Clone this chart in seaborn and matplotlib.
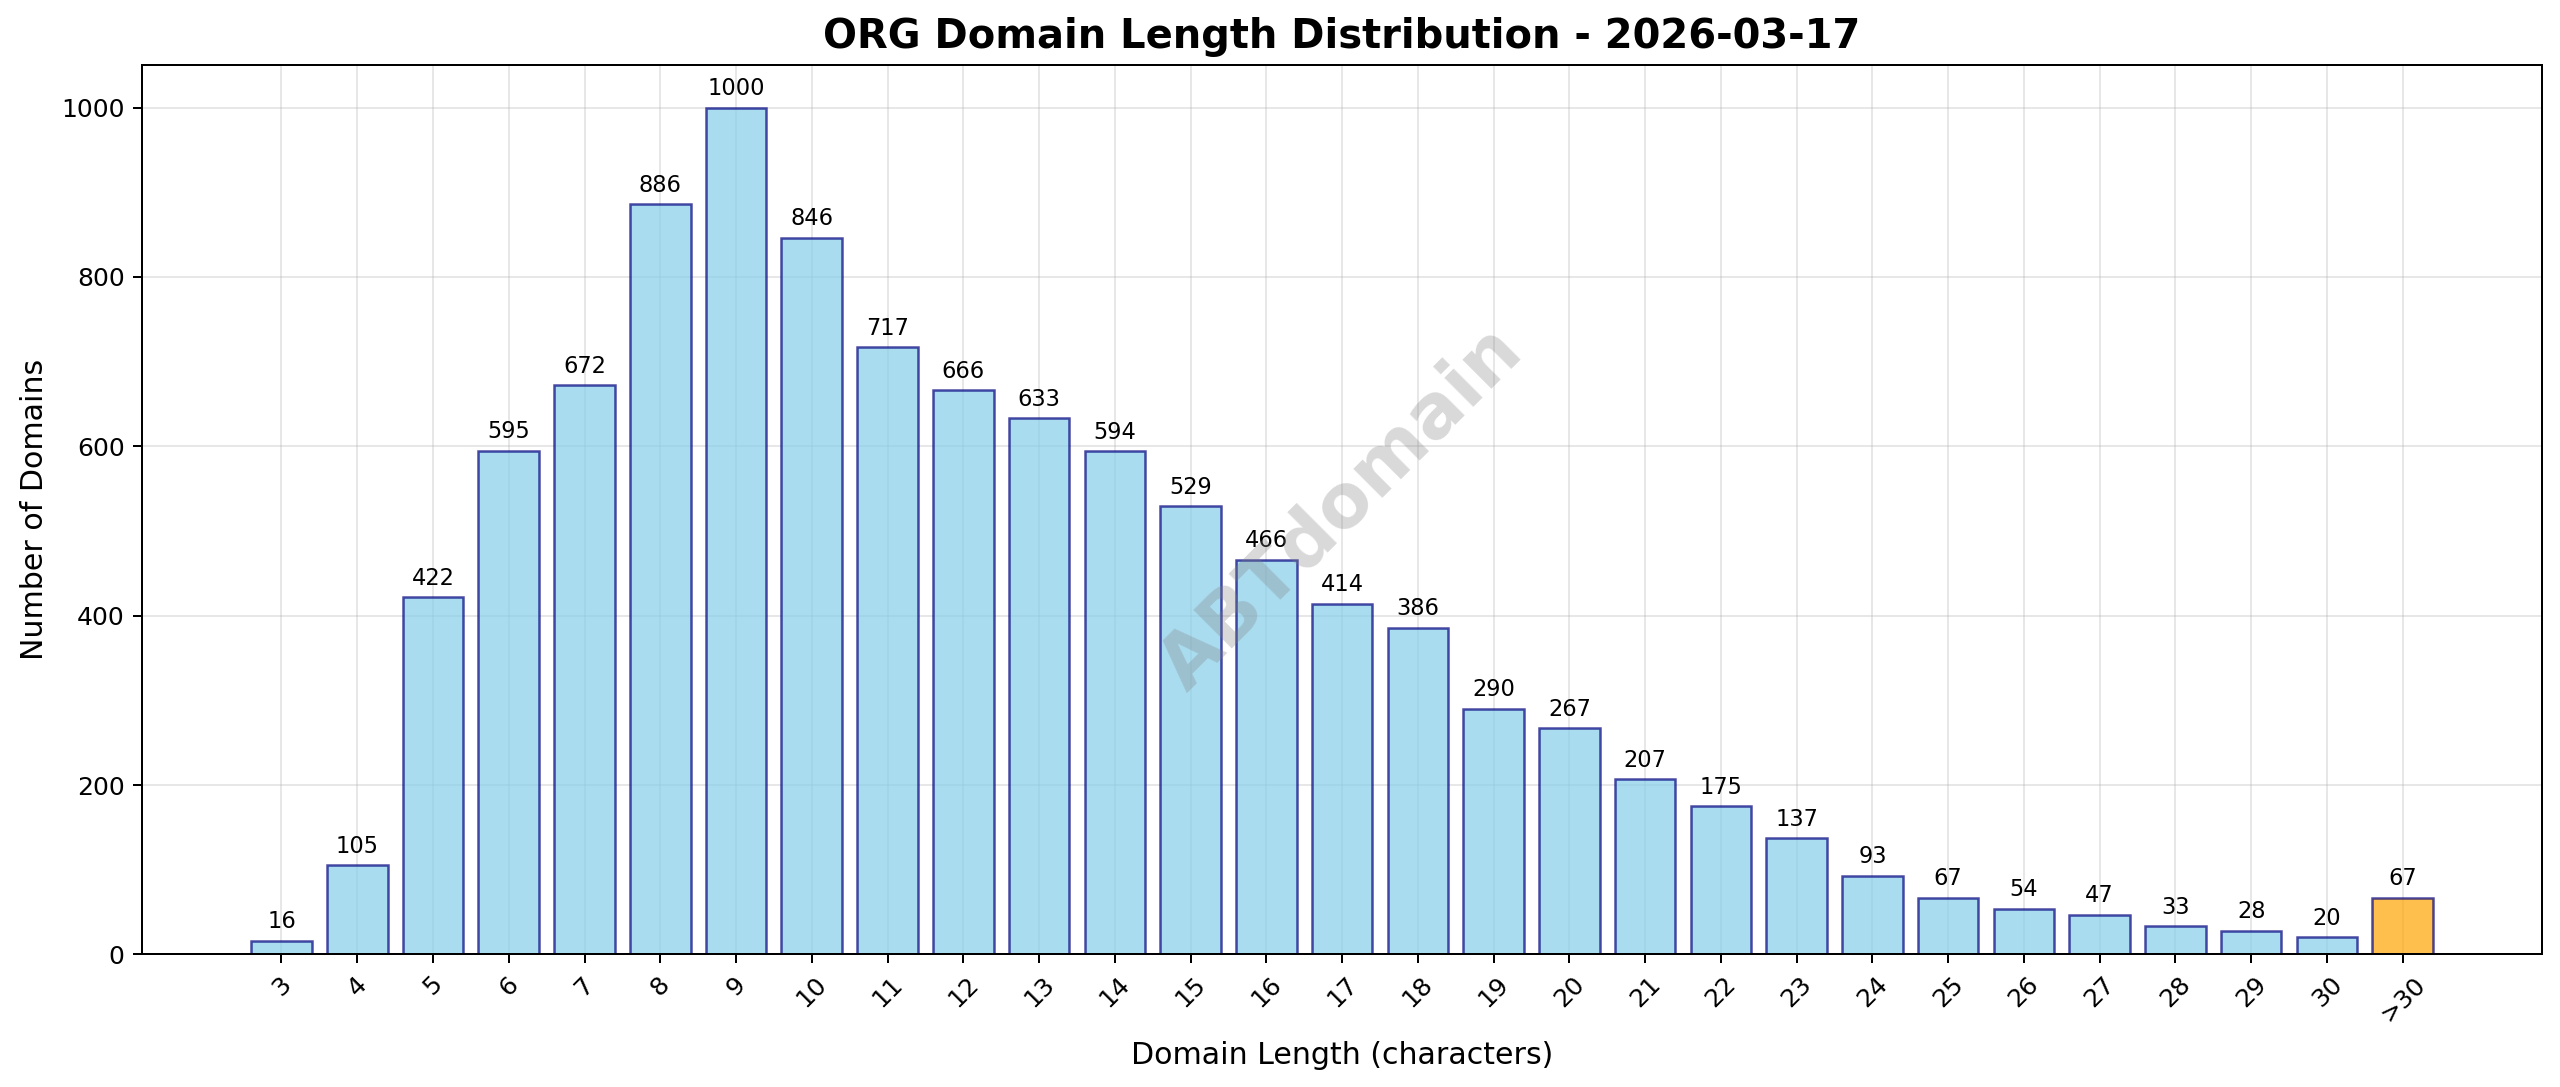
import pandas as pd
import matplotlib
matplotlib.use("Agg")
import matplotlib.pyplot as plt
import seaborn as sns

# --- data ---
lengths = ["3", "4", "5", "6", "7", "8", "9", "10", "11", "12", "13", "14", "15",
           "16", "17", "18", "19", "20", "21", "22", "23", "24", "25", "26", "27",
           "28", "29", "30", ">30"]
counts = [16, 105, 422, 595, 672, 886, 1000, 846, 717, 666, 633, 594, 529,
          466, 414, 386, 290, 267, 207, 175, 137, 93, 67, 54, 47,
          33, 28, 20, 67]

df = pd.DataFrame({"length": lengths, "count": counts})
df["group"] = ["long" if l == ">30" else "normal" for l in lengths]

sns.set_style("white", rc={
    "text.color": "black", "axes.labelcolor": "black",
    "xtick.color": "black", "ytick.color": "black",
    "axes.edgecolor": "black", "grid.color": "#b0b0b0",
})
plt.rcParams["font.family"] = ["DejaVu Sans"]

DPI = 180
fig, ax = plt.subplots(figsize=(2560 / DPI, 1087 / DPI), dpi=DPI)
sns.barplot(data=df, x="length", y="count", hue="group",
            palette={"normal": "skyblue", "long": "orange"},
            saturation=1, edgecolor="navy", linewidth=1, alpha=0.7, width=0.8,
            dodge=False, legend=False, ax=ax)

# value labels above bars
for i, v in enumerate(counts):
    ax.annotate(str(v), (i, v), xytext=(0, 3), textcoords="offset points",
                ha="center", va="bottom", fontsize=9)

n = len(lengths)
pad = 0.05 * (n - 1 + 0.8)
ax.set_xlim(-0.4 - pad, n - 1 + 0.4 + pad)
ax.set_ylim(0, 1050)

ax.grid(True, alpha=0.3, linewidth=0.8)
ax.set_axisbelow(True)
for s in ax.spines.values():
    s.set_visible(True)
    s.set_linewidth(0.8)
ax.tick_params(axis="both", which="both", bottom=True, left=True,
               length=3.5, width=0.8, labelsize=10)
plt.setp(ax.get_xticklabels(), rotation=45)

ax.set_title("ORG Domain Length Distribution - 2026-03-17",
             fontsize=16, fontweight="bold", pad=7)
ax.set_xlabel("Domain Length (characters)", fontsize=12, labelpad=6)
ax.set_ylabel("Number of Domains", fontsize=12, labelpad=5)

# watermark
ax.text(0.5, 0.5, "ABTdomain", transform=ax.transAxes, fontsize=30,
        fontweight="bold", color="gray", alpha=0.3, rotation=45,
        ha="center", va="center")

fig.subplots_adjust(left=0.0555, right=0.993, top=0.94, bottom=0.122)
plt.savefig("out.png", dpi=DPI)
